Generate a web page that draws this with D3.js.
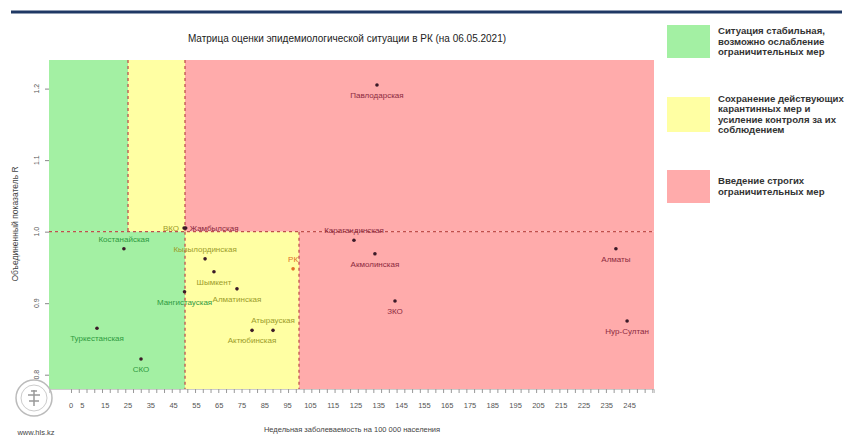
<!DOCTYPE html>
<html>
<head>
<meta charset="utf-8">
<script src="https://cdn.jsdelivr.net/npm/d3@7"></script>
<style>
	body { margin:0; background:#fff; }
	svg text { font-family:"Liberation Sans Narrow","Liberation Sans",sans-serif; }
</style>
</head>
<body>
<svg id="chart" width="855" height="439"></svg>
<script>
"use strict";

// regions of the republic, weekly incidence per 100 000 and combined R
var regions = ["Павлодарская","Карагандинская","Акмолинская","ЗКО","Алматы","Нур-Султан",
	"Костанайская","Туркестанская","СКО","Кызылординская","Шымкент","Алматинская",
	"Мангистауская","Атырауская","Актюбинская","РК","ВКО","Жамбылская"];
var incidence = [134.2,124.1,133.3,142.1,239,243.9, 23.2,11.4,30.7,58.8,62.7,72.8, 49.8,88.6,79.4,97.4,49.6,50.3];
var rValues   = [1.205,0.988,0.969,0.903,0.976,0.875, 0.976,0.865,0.822,0.962,0.944,0.92, 0.916,0.862,0.862,0.948,1.005,1.005];
// where each label sits relative to its dot
var labelSide = ["b","a","b","b","b","b", "a","b","b","a","b","b", "b","a","b","a","l","r"];

// thresholds of the matrix
var rSplit = 1.0;
var upperBreaks = [25, 50];   // R > 1
var lowerBreaks = [50, 100];  // R < 1

var xTickLabels = [0,5,15,25,35,45,55,65,75,85,95,105,115,125,135,145,155,165,175,185,195,205,215,225,235,245];
var yTickLabels = [0.8,0.9,1.0,1.1,1.2];

var legendTexts = [
	["Ситуация стабильная,","возможно ослабление","ограничительных мер"],
	["Сохранение действующих","карантинных мер и","усиление контроля за их","соблюдением"],
	["Введение строгих","ограничительных мер"]
];

var zoneFill = ["#a3f0a3","#ffffa3","#ffabab"];
var zoneText = ["#2f9a3f","#9c9c2a","#8c2a40"];

var svg = d3.select("#chart");

var x = d3.scaleLinear().domain([-9.65,255.7]).range([49,654]);
var y = d3.scaleLinear().domain([0.78,1.24]).range([389,60]);

function zoneOf(xv, rv) {
	var br = rv > rSplit ? upperBreaks : lowerBreaks;
	if (xv < br[0]) { return 0; }
	if (xv < br[1]) { return 1; }
	return 2;
}

// top rule
svg.append("line").attr("x1",11).attr("x2",842).attr("y1",12).attr("y2",12)
	.attr("stroke","#1f3864").attr("stroke-width",3);

svg.append("text").attr("x",347).attr("y",42).attr("text-anchor","middle")
	.attr("font-size","10px").attr("fill","#222")
	.text("Матрица оценки эпидемиологической ситуации в РК (на 06.05.2021)");

// zones
var zones = [];
[[rSplit, y.domain()[1], upperBreaks],[y.domain()[0], rSplit, lowerBreaks]].forEach(function(band){
	var edges = [x.domain()[0]].concat(band[2]).concat([x.domain()[1]]);
	for (var i=0; i<3; i++) {
		zones.push({x0:edges[i], x1:edges[i+1], r0:band[0], r1:band[1], k:i});
	}
});
svg.append("g").selectAll("rect").data(zones).enter().append("rect")
	.attr("x",function(d){ return x(d.x0); })
	.attr("width",function(d){ return x(d.x1)-x(d.x0); })
	.attr("y",function(d){ return y(d.r1); })
	.attr("height",function(d){ return y(d.r0)-y(d.r1); })
	.attr("fill",function(d){ return zoneFill[d.k]; });

// dashed borders
var dash = svg.append("g").attr("stroke","#c0504d").attr("stroke-width",1.3)
	.attr("stroke-dasharray","3,3").attr("fill","none");
dash.append("line").attr("x1",x.range()[0]).attr("x2",x.range()[1]).attr("y1",y(rSplit)).attr("y2",y(rSplit));
upperBreaks.forEach(function(b){
	dash.append("line").attr("x1",x(b)).attr("x2",x(b)).attr("y1",y.range()[1]).attr("y2",y(rSplit));
});
lowerBreaks.forEach(function(b){
	dash.append("line").attr("x1",x(b)).attr("x2",x(b)).attr("y1",y(rSplit)).attr("y2",y.range()[0]);
});

// x axis
var xAxis = d3.axisBottom(x).tickValues(d3.range(0,256,3.4)).tickSize(4).tickFormat("");
var gx = svg.append("g").attr("transform","translate(0,389)").call(xAxis);
gx.select(".domain").attr("stroke","#ccc");
gx.selectAll(".tick line").attr("stroke","#999");
svg.append("g").selectAll("text").data(xTickLabels).enter().append("text")
	.attr("x",function(d){ return x(d); }).attr("y",408)
	.attr("text-anchor","middle").attr("font-size","7.5px").attr("fill","#555")
	.text(function(d){ return d; });
svg.append("text").attr("x",352).attr("y",432).attr("text-anchor","middle")
	.attr("font-size","7.5px").attr("fill","#444")
	.text("Недельная заболеваемость на 100 000 населения");

// y axis
var gy = svg.append("g").attr("transform","translate(49,0)")
	.call(d3.axisLeft(y).tickValues(yTickLabels).tickSize(4).tickFormat(""));
gy.select(".domain").remove();
gy.selectAll(".tick line").attr("stroke","#888");
svg.append("g").selectAll("text").data(yTickLabels).enter().append("text")
	.attr("transform",function(d){ return "translate(39,"+y(d)+") rotate(-90)"; })
	.attr("text-anchor","middle").attr("font-size","7px").attr("fill","#555")
	.text(function(d){ return d.toFixed(1); });
svg.append("text").attr("transform","translate(18,224) rotate(-90)")
	.attr("text-anchor","middle").attr("font-size","8.5px").attr("fill","#444")
	.text("Объединенный показатель R");

// points
var pts = regions.map(function(n,i){
	return {name:n, v:incidence[i], r:rValues[i], side:labelSide[i]};
});
var pg = svg.append("g");
pg.selectAll("circle").data(pts).enter().append("circle")
	.attr("cx",function(d){ return x(d.v); })
	.attr("cy",function(d){ return y(d.r); })
	.attr("r",1.8)
	.attr("fill",function(d){ return d.name==="РК" ? "#e0702a" : "#3b1a28"; });
pg.selectAll("text").data(pts).enter().append("text")
	.attr("x",function(d){
		var px = x(d.v);
		if (d.side==="l") { return px-5; }
		if (d.side==="r") { return px+4; }
		return px;
	})
	.attr("y",function(d){
		var py = y(d.r);
		if (d.side==="a") { return py-7; }
		if (d.side==="b") { return py+13; }
		return py+3;
	})
	.attr("text-anchor",function(d){
		return d.side==="l" ? "end" : (d.side==="r" ? "start" : "middle");
	})
	.attr("font-size","8px")
	.attr("fill",function(d){ return d.name==="РК" ? "#e0702a" : zoneText[zoneOf(d.v,d.r)]; })
	.text(function(d){ return d.name; });

// legend
var legTop = [25,97,170];
var legH = [33,35,33];
var lg = svg.append("g");
legendTexts.forEach(function(lines,i){
	lg.append("rect").attr("x",667).attr("y",legTop[i]).attr("width",43).attr("height",legH[i])
		.attr("fill",zoneFill[i]);
	var t0 = legTop[i] + legH[i]/2 - (lines.length-1)*10.3/2 + 3;
	lines.forEach(function(s,j){
		lg.append("text").attr("x",718).attr("y",t0+j*10.3)
			.attr("font-family","'Open Sans',sans-serif").attr("font-weight",600)
			.attr("font-size","9.6px").attr("fill","#333").text(s);
	});
});

// logo
var logo = svg.append("g").attr("transform","translate(34,398)");
logo.append("circle").attr("r",18).attr("fill","none").attr("stroke","#bbb").attr("stroke-width",1.5);
logo.append("circle").attr("r",13).attr("fill","none").attr("stroke","#ccc").attr("stroke-width",1);
logo.append("path").attr("d","M0,-8 L0,8 M-6,-3 L6,-3 M-5,3 L5,3 M-3,-7 L3,-7")
	.attr("stroke","#999").attr("stroke-width",1.5);
svg.append("text").attr("x",36).attr("y",435).attr("text-anchor","middle")
	.attr("font-size","7.5px").attr("fill","#444").text("www.hls.kz");
</script>
</body>
</html>
